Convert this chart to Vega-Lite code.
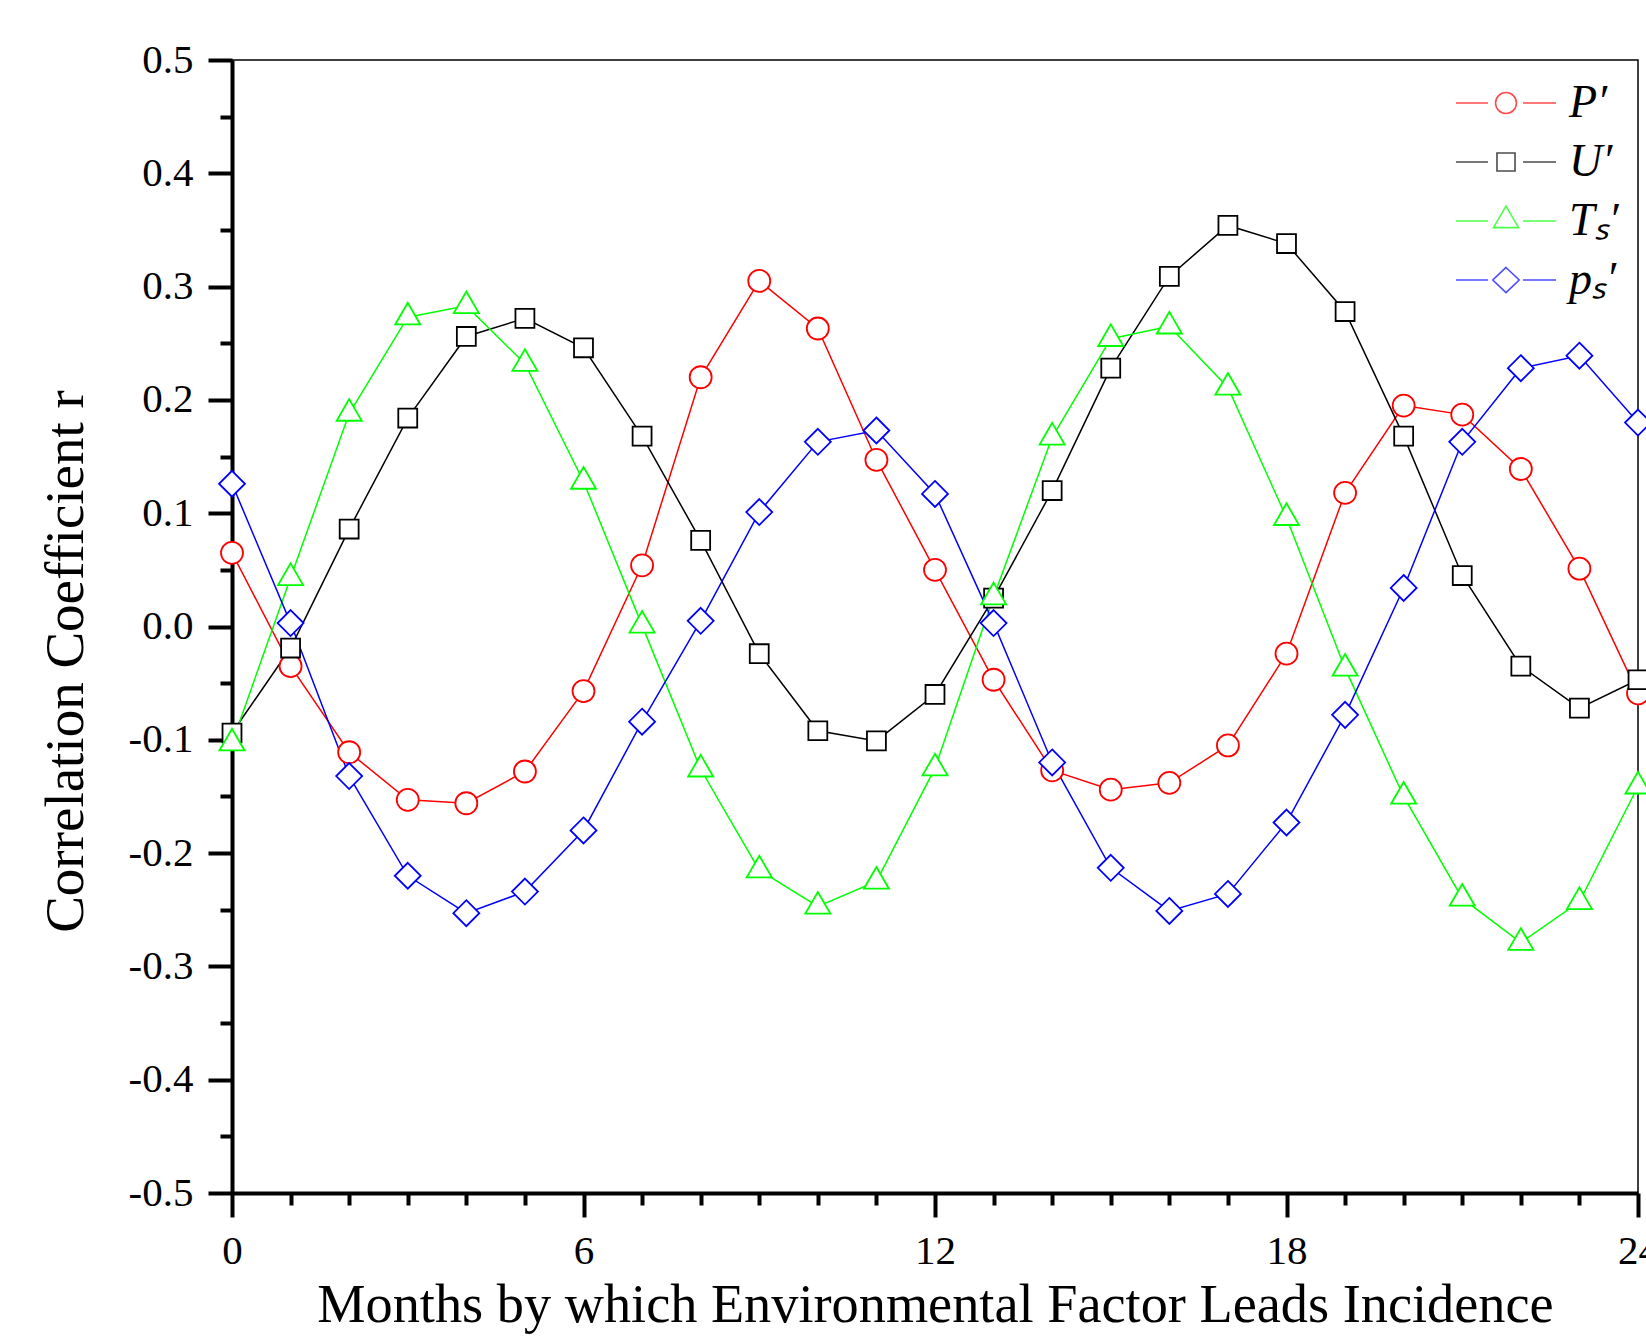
{
  "$schema": "https://vega.github.io/schema/vega-lite/v6.json",
  "width": 1406,
  "height": 1133,
  "autosize": {"type": "none"},
  "padding": {"left": 232, "top": 60, "right": 8, "bottom": 147},
  "background": "white",
  "config": {
    "view": {"stroke": "black", "strokeWidth": 1.5},
    "font": "Liberation Serif",
    "axis": {
      "labelFont": "Liberation Serif", "titleFont": "Liberation Serif",
      "labelColor": "black", "titleColor": "black",
      "labelFontSize": 41, "titleFontSize": 55, "titleFontWeight": "normal",
      "domainColor": "black", "domainWidth": 4, "tickColor": "black", "tickWidth": 4,
      "grid": false, "labelOverlap": false, "labelBound": false, "labelFlush": false
    }
  },
  "data": {"values": [
    {"month":0,"series":"P′","r":0.065},{"month":1,"series":"P′","r":-0.035},{"month":2,"series":"P′","r":-0.111},{"month":3,"series":"P′","r":-0.153},{"month":4,"series":"P′","r":-0.156},{"month":5,"series":"P′","r":-0.128},{"month":6,"series":"P′","r":-0.057},{"month":7,"series":"P′","r":0.054},{"month":8,"series":"P′","r":0.220},{"month":9,"series":"P′","r":0.305},{"month":10,"series":"P′","r":0.263},{"month":11,"series":"P′","r":0.147},{"month":12,"series":"P′","r":0.050},{"month":13,"series":"P′","r":-0.047},{"month":14,"series":"P′","r":-0.127},{"month":15,"series":"P′","r":-0.144},{"month":16,"series":"P′","r":-0.138},{"month":17,"series":"P′","r":-0.105},{"month":18,"series":"P′","r":-0.024},{"month":19,"series":"P′","r":0.118},{"month":20,"series":"P′","r":0.195},{"month":21,"series":"P′","r":0.187},{"month":22,"series":"P′","r":0.139},{"month":23,"series":"P′","r":0.051},{"month":24,"series":"P′","r":-0.059},
    {"month":0,"series":"U′","r":-0.094},{"month":1,"series":"U′","r":-0.019},{"month":2,"series":"U′","r":0.086},{"month":3,"series":"U′","r":0.184},{"month":4,"series":"U′","r":0.256},{"month":5,"series":"U′","r":0.272},{"month":6,"series":"U′","r":0.246},{"month":7,"series":"U′","r":0.168},{"month":8,"series":"U′","r":0.076},{"month":9,"series":"U′","r":-0.024},{"month":10,"series":"U′","r":-0.092},{"month":11,"series":"U′","r":-0.101},{"month":12,"series":"U′","r":-0.060},{"month":13,"series":"U′","r":0.025},{"month":14,"series":"U′","r":0.120},{"month":15,"series":"U′","r":0.228},{"month":16,"series":"U′","r":0.309},{"month":17,"series":"U′","r":0.354},{"month":18,"series":"U′","r":0.338},{"month":19,"series":"U′","r":0.278},{"month":20,"series":"U′","r":0.168},{"month":21,"series":"U′","r":0.045},{"month":22,"series":"U′","r":-0.035},{"month":23,"series":"U′","r":-0.072},{"month":24,"series":"U′","r":-0.047},
    {"month":0,"series":"Tₛ′","r":-0.103},{"month":1,"series":"Tₛ′","r":0.043},{"month":2,"series":"Tₛ′","r":0.188},{"month":3,"series":"Tₛ′","r":0.273},{"month":4,"series":"Tₛ′","r":0.283},{"month":5,"series":"Tₛ′","r":0.232},{"month":6,"series":"Tₛ′","r":0.128},{"month":7,"series":"Tₛ′","r":0.001},{"month":8,"series":"Tₛ′","r":-0.126},{"month":9,"series":"Tₛ′","r":-0.215},{"month":10,"series":"Tₛ′","r":-0.247},{"month":11,"series":"Tₛ′","r":-0.225},{"month":12,"series":"Tₛ′","r":-0.125},{"month":13,"series":"Tₛ′","r":0.026},{"month":14,"series":"Tₛ′","r":0.167},{"month":15,"series":"Tₛ′","r":0.254},{"month":16,"series":"Tₛ′","r":0.265},{"month":17,"series":"Tₛ′","r":0.211},{"month":18,"series":"Tₛ′","r":0.096},{"month":19,"series":"Tₛ′","r":-0.037},{"month":20,"series":"Tₛ′","r":-0.150},{"month":21,"series":"Tₛ′","r":-0.240},{"month":22,"series":"Tₛ′","r":-0.279},{"month":23,"series":"Tₛ′","r":-0.243},{"month":24,"series":"Tₛ′","r":-0.141},
    {"month":0,"series":"pₛ′","r":0.126},{"month":1,"series":"pₛ′","r":0.003},{"month":2,"series":"pₛ′","r":-0.132},{"month":3,"series":"pₛ′","r":-0.220},{"month":4,"series":"pₛ′","r":-0.253},{"month":5,"series":"pₛ′","r":-0.234},{"month":6,"series":"pₛ′","r":-0.180},{"month":7,"series":"pₛ′","r":-0.084},{"month":8,"series":"pₛ′","r":0.005},{"month":9,"series":"pₛ′","r":0.101},{"month":10,"series":"pₛ′","r":0.163},{"month":11,"series":"pₛ′","r":0.173},{"month":12,"series":"pₛ′","r":0.117},{"month":13,"series":"pₛ′","r":0.003},{"month":14,"series":"pₛ′","r":-0.120},{"month":15,"series":"pₛ′","r":-0.213},{"month":16,"series":"pₛ′","r":-0.251},{"month":17,"series":"pₛ′","r":-0.236},{"month":18,"series":"pₛ′","r":-0.173},{"month":19,"series":"pₛ′","r":-0.078},{"month":20,"series":"pₛ′","r":0.034},{"month":21,"series":"pₛ′","r":0.163},{"month":22,"series":"pₛ′","r":0.228},{"month":23,"series":"pₛ′","r":0.239},{"month":24,"series":"pₛ′","r":0.180}
  ]},
  "encoding": {
    "x": {
      "field": "month", "type": "quantitative",
      "scale": {"domain": [0, 24], "nice": false, "zero": false},
      "axis": {
        "title": "Months by which Environmental Factor Leads Incidence",
        "titleFontSize": 54.3,
        "values": [0,1,2,3,4,5,6,7,8,9,10,11,12,13,14,15,16,17,18,19,20,21,22,23,24],
        "tickSize": {"expr": "datum.value % 6 == 0 ? 24 : 12"},
        "labelPadding": 14, "titlePadding": 7,
        "labelExpr": "datum.value % 6 == 0 ? datum.label : ''"
      }
    },
    "y": {
      "field": "r", "type": "quantitative",
      "scale": {"domain": [-0.5, 0.5], "nice": false, "zero": false},
      "axis": {
        "title": "Correlation Coefficient r",
        "values": [-0.5,-0.45,-0.4,-0.35,-0.3,-0.25,-0.2,-0.15,-0.1,-0.05,0,0.05,0.1,0.15,0.2,0.25,0.3,0.35,0.4,0.45,0.5],
        "tickSize": {"expr": "abs(datum.value*10 - round(datum.value*10)) < 0.001 ? 24 : 12"},
        "labelPadding": 15, "titlePadding": 34, "titleY": 601,
        "labelExpr": "abs(datum.value*10 - round(datum.value*10)) < 0.001 ? (datum.value < -0.001 ? '-' + format(-datum.value, '.1f') : format(abs(datum.value), '.1f')) : ''"
      }
    },
    "color": {
      "field": "series", "type": "nominal",
      "scale": {"domain": ["P′", "U′", "Tₛ′", "pₛ′"], "range": ["#FF0000", "#000000", "#00FF00", "#0000FF"]},
      "legend": null
    }
  },
  "layer": [
    {"mark": {"type": "line", "strokeWidth": 1.5, "clip": false}},
    {
      "mark": {"type": "point", "filled": false, "fill": "white", "strokeWidth": 1.8, "size": 484, "opacity": 1, "clip": false},
      "encoding": {
        "shape": {
          "field": "series", "type": "nominal",
          "scale": {"domain": ["P′", "U′", "Tₛ′", "pₛ′"], "range": ["circle", "M-0.86,-0.86L0.86,-0.86L0.86,0.86L-0.86,0.86Z", "M0,-1.31L1.14,0.66L-1.14,0.66Z", "M0,-1.18L1.18,0L0,1.18L-1.18,0Z"]},
          "legend": null
        }
      }
    },
    {
      "transform": [{"filter": "false"}],
      "mark": {"type": "point", "filled": false, "strokeWidth": 1.8, "size": 484},
      "encoding": {
        "shape": {
          "field": "series", "type": "nominal",
          "scale": {"domain": ["P′", "U′", "Tₛ′", "pₛ′"], "range": [
            "M-4.55,0L-1.64,0M1.55,0L4.55,0M0.95,0A0.95,0.95,0,1,1,-0.95,0A0.95,0.95,0,1,1,0.95,0",
            "M-4.55,0L-1.64,0M1.55,0L4.55,0M-0.82,-0.82L0.82,-0.82L0.82,0.82L-0.82,0.82Z",
            "M-4.55,0L-1.64,0M1.55,0L4.55,0M0,-1.36L1.14,0.6L-1.14,0.6Z",
            "M-4.55,0L-1.64,0M1.55,0L4.55,0M0,-1.14L1.2,0L0,1.14L-1.2,0Z"
          ]},
          "legend": {
            "title": null, "orient": "none", "legendX": 1211, "legendY": 20,
            "symbolSize": 484, "symbolStrokeWidth": 1.6, "symbolFillColor": "transparent",
            "symbolStrokeColor": {"expr": "scale('color', datum.value)"},
            "labelFont": "Liberation Serif", "labelFontStyle": "italic", "labelFontSize": 46, "labelColor": "black",
            "rowPadding": 13, "symbolOffset": 40, "labelOffset": 40
          }
        }
      }
    }
  ],
  "resolve": {"scale": {"shape": "independent"}}
}
